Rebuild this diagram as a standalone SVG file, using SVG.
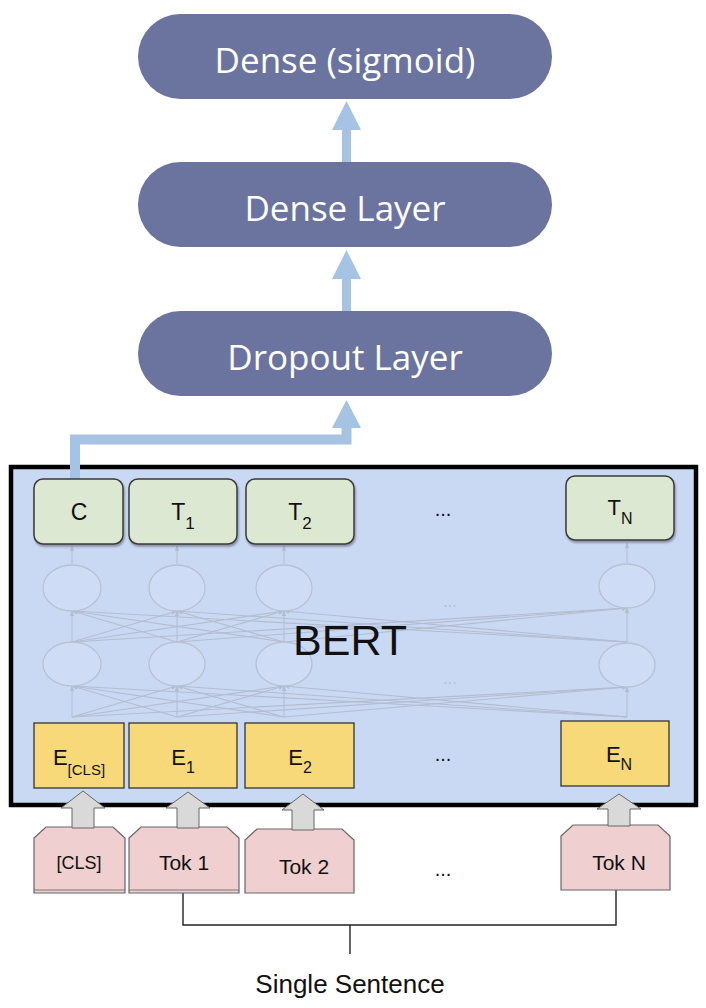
<svg xmlns="http://www.w3.org/2000/svg" width="706" height="1008" viewBox="0 0 706 1008">
<style>
.pill{fill:#6b739f}
.pilltxt{font-family:"Open Sans",sans-serif;font-size:35px;font-weight:500;fill:#fff;text-anchor:middle}
.blue{fill:#a6c3e3}
.bluel{stroke:#a6c3e3;stroke-width:10;fill:none;stroke-linejoin:miter}
.tbox{fill:#dde8d3;stroke:#3a3a3a;stroke-width:1.5}
.ebox{fill:#f8d97a;stroke:#333;stroke-width:1.3}
.tok{fill:#efcfcf;stroke:#666;stroke-width:1.2}
.garrow{fill:#d9d9d9;stroke:#666;stroke-width:1}
.lbl{font-family:"Liberation Sans",Arial,sans-serif;fill:#111;text-anchor:middle}
.faint{stroke:#b3bdd1;stroke-width:1.1;fill:none}
.ell{fill:#cedcf5;stroke:#b7c1d4;stroke-width:1.3}
.bracket{stroke:#222;stroke-width:1.4;fill:none}
</style>
<defs>
<marker id="fa" viewBox="0 0 10 10" refX="9" refY="5" markerWidth="6" markerHeight="6" orient="auto" markerUnits="userSpaceOnUse">
<path d="M0,1 L10,5 L0,9 z" fill="#b3bdd1"/>
</marker>
<filter id="sh" x="-10%" y="-10%" width="130%" height="140%">
<feDropShadow dx="1" dy="2" stdDeviation="1.2" flood-color="#000" flood-opacity="0.35"/>
</filter>
</defs>

<g id="bert-box">
<rect x="11" y="467" width="685" height="338" fill="#cad9f3" stroke="#000" stroke-width="4.5"/>
</g>

<g id="bert-internals">
<g class="faint" marker-end="url(#fa)">
<line x1="72" y1="564" x2="72" y2="546"/>
<line x1="177" y1="564" x2="177" y2="546"/>
<line x1="284" y1="564" x2="284" y2="546"/>
<line x1="627" y1="563" x2="627" y2="543"/>

<line x1="72" y1="642" x2="72" y2="611"/>
<line x1="72" y1="642" x2="177" y2="611"/>
<line x1="72" y1="642" x2="284" y2="611"/>
<line x1="72" y1="642" x2="627" y2="608"/>
<line x1="177" y1="642" x2="72" y2="611"/>
<line x1="177" y1="642" x2="177" y2="611"/>
<line x1="177" y1="642" x2="284" y2="611"/>
<line x1="177" y1="642" x2="627" y2="608"/>
<line x1="284" y1="642" x2="72" y2="611"/>
<line x1="284" y1="642" x2="177" y2="611"/>
<line x1="284" y1="642" x2="284" y2="611"/>
<line x1="284" y1="642" x2="627" y2="608"/>
<line x1="627" y1="642" x2="72" y2="611"/>
<line x1="627" y1="642" x2="177" y2="611"/>
<line x1="627" y1="642" x2="284" y2="611"/>
<line x1="627" y1="642" x2="627" y2="608"/>

<line x1="72" y1="717" x2="72" y2="686"/>
<line x1="72" y1="717" x2="177" y2="686"/>
<line x1="72" y1="717" x2="284" y2="686"/>
<line x1="72" y1="717" x2="627" y2="687"/>
<line x1="177" y1="717" x2="72" y2="686"/>
<line x1="177" y1="717" x2="177" y2="686"/>
<line x1="177" y1="717" x2="284" y2="686"/>
<line x1="177" y1="717" x2="627" y2="687"/>
<line x1="284" y1="717" x2="72" y2="686"/>
<line x1="284" y1="717" x2="177" y2="686"/>
<line x1="284" y1="717" x2="284" y2="686"/>
<line x1="284" y1="717" x2="627" y2="687"/>
<line x1="627" y1="717" x2="72" y2="686"/>
<line x1="627" y1="717" x2="177" y2="686"/>
<line x1="627" y1="717" x2="284" y2="686"/>
<line x1="627" y1="717" x2="627" y2="687"/>
</g>
<ellipse class="ell" cx="72" cy="588" rx="29" ry="23"/>
<ellipse class="ell" cx="177" cy="588" rx="28" ry="23"/>
<ellipse class="ell" cx="284" cy="588" rx="28" ry="23"/>
<ellipse class="ell" cx="627" cy="586" rx="28" ry="22"/>
<ellipse class="ell" cx="72" cy="664" rx="29" ry="22"/>
<ellipse class="ell" cx="177" cy="664" rx="28" ry="22"/>
<ellipse class="ell" cx="284" cy="664" rx="28" ry="22"/>
<ellipse class="ell" cx="627" cy="665" rx="28" ry="22"/>
<text class="lbl" x="450" y="607" font-size="16" style="fill:#b3bdd1">...</text>
<text class="lbl" x="450" y="684" font-size="16" style="fill:#b3bdd1">...</text>
</g>

<g id="bert-label">
<text class="lbl" x="350" y="655" font-size="43">BERT</text>
</g>

<g id="connectors">
<rect class="blue" x="342" y="129" width="9" height="34"/>
<polygon class="blue" points="346.5,101 361,130 332,130"/>
<rect class="blue" x="342" y="278" width="9" height="34"/>
<polygon class="blue" points="346.5,250 361,279 332,279"/>
<polyline class="bluel" points="75,483 75,439.5 346.5,439.5 346.5,426"/>
<polygon class="blue" points="346.5,400 361,428 332,428"/>
<polyline class="bracket" points="183,893 183,925 616,925 616,890"/>
<line class="bracket" x1="350" y1="925" x2="350" y2="954"/>
</g>

<g id="dense-sigmoid">
<rect class="pill" x="138" y="14" width="414" height="85" rx="42.5"/>
<text class="pilltxt" x="345" y="73">Dense (sigmoid)</text>
</g>
<g id="dense-layer">
<rect class="pill" x="138" y="162" width="414" height="85" rx="42.5"/>
<text class="pilltxt" x="345" y="221">Dense Layer</text>
</g>
<g id="dropout-layer">
<rect class="pill" x="138" y="311" width="414" height="85" rx="42.5"/>
<text class="pilltxt" x="345" y="370">Dropout Layer</text>
</g>

<g id="t-c">
<rect class="tbox" filter="url(#sh)" x="34" y="479" width="89" height="65" rx="9"/>
<text class="lbl" x="79" y="520" font-size="23">C</text>
</g>
<g id="t-1">
<rect class="tbox" filter="url(#sh)" x="129" y="479" width="108" height="65" rx="9"/>
<text class="lbl" x="183" y="520" font-size="23">T<tspan dy="9" font-size="17">1</tspan></text>
</g>
<g id="t-2">
<rect class="tbox" filter="url(#sh)" x="246" y="479" width="108" height="65" rx="9"/>
<text class="lbl" x="300" y="520" font-size="23">T<tspan dy="9" font-size="17">2</tspan></text>
</g>
<g id="t-dots"><text class="lbl" x="443" y="516" font-size="20">...</text></g>
<g id="t-n">
<rect class="tbox" filter="url(#sh)" x="566" y="476" width="108" height="64" rx="9"/>
<text class="lbl" x="620" y="515" font-size="22">T<tspan dy="9" font-size="16">N</tspan></text>
</g>

<g id="e-cls">
<rect class="ebox" x="34" y="723" width="90" height="65"/>
<text class="lbl" x="79" y="765" font-size="22">E<tspan dy="10" font-size="15">[CLS]</tspan></text>
</g>
<g id="e-1">
<rect class="ebox" x="129" y="723" width="108" height="65"/>
<text class="lbl" x="183" y="765" font-size="22">E<tspan dy="8" font-size="16">1</tspan></text>
</g>
<g id="e-2">
<rect class="ebox" x="245" y="723" width="109" height="65"/>
<text class="lbl" x="300" y="765" font-size="22">E<tspan dy="8" font-size="16">2</tspan></text>
</g>
<g id="e-dots"><text class="lbl" x="443" y="761" font-size="20">...</text></g>
<g id="e-n">
<rect class="ebox" x="561" y="721" width="108" height="65"/>
<text class="lbl" x="619" y="762" font-size="22">E<tspan dy="8" font-size="16">N</tspan></text>
</g>

<g id="tok-cls">
<path class="tok" d="M34,838 L46,827 L113,827 L125,838 L125,893 L34,893 Z"/>
<line x1="34" y1="890" x2="125" y2="890" stroke="#777" stroke-width="1"/>
<text class="lbl" x="79" y="869" font-size="18">[CLS]</text>
</g>
<g id="tok-1">
<path class="tok" d="M129,838 L141,827 L227,827 L239,838 L239,893 L129,893 Z"/>
<line x1="129" y1="890" x2="239" y2="890" stroke="#777" stroke-width="1"/>
<text class="lbl" x="184" y="870" font-size="21">Tok 1</text>
</g>
<g id="tok-2">
<path class="tok" d="M245,840 L257,829 L342,829 L354,840 L354,893 L245,893 Z"/>
<text class="lbl" x="304" y="874" font-size="21">Tok 2</text>
</g>
<g id="tok-dots"><text class="lbl" x="443" y="876" font-size="20">...</text></g>
<g id="tok-n">
<path class="tok" d="M561,836 L573,825 L658,825 L670,836 L670,890 L561,890 Z"/>
<text class="lbl" x="619" y="870" font-size="21">Tok N</text>
</g>

<g id="up-arrows">
<polygon class="garrow" points="83,791 105,808 94,808 94,828 72,828 72,808 61,808"/>
<polygon class="garrow" points="188,792 210,808 199,808 199,828 177,828 177,808 166,808"/>
<polygon class="garrow" points="303,794 324,810 314,810 314,830 292,830 292,810 282,810"/>
<polygon class="garrow" points="619,794 641,809 630,809 630,826 608,826 608,809 597,809"/>
</g>

<g id="single-sentence">
<text class="lbl" x="350" y="993" font-size="26">Single Sentence</text>
</g>
</svg>
